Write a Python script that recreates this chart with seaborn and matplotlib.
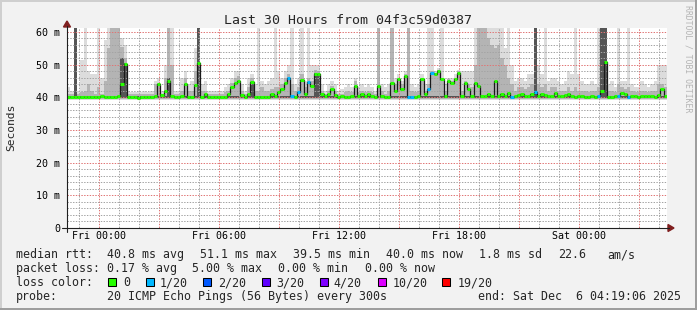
import numpy as np
import pandas as pd
import matplotlib
matplotlib.use("Agg")
import matplotlib.pyplot as plt
from matplotlib.patches import Rectangle, Polygon
from matplotlib.lines import Line2D
import seaborn as sns

# ---------------- data (10-minute samples, ms) ----------------
median_ms = [
    40.1, 40.0, 40.2, 40.0, 40.0, 40.1, 40.0, 40.0, 40.2, 40.0,
    40.3, 40.0, 40.1, 40.0, 40.2, 40.4, 44.0, 50.2, 40.0, 40.0,
    40.0, 39.9, 40.0, 40.0, 40.1, 40.0, 40.3, 44.0, 40.6, 42.0,
    45.0, 40.4, 40.0, 40.1, 40.5, 44.2, 40.2, 40.0, 43.8, 50.5,
    40.0, 41.0, 40.0, 40.0, 40.1, 40.0, 40.2, 40.0, 41.0, 43.2,
    44.5, 45.0, 40.6, 40.0, 41.0, 44.6, 40.2, 40.0, 40.0, 40.1,
    40.2, 41.0, 40.3, 41.5, 42.5, 44.5, 45.8, 40.5, 40.0, 41.5,
    45.3, 41.0, 44.6, 43.5, 47.2, 47.0, 41.0, 40.3, 41.0, 42.5,
    40.8, 40.2, 40.3, 40.0, 40.2, 40.5, 43.5, 40.5, 41.0, 40.3,
    41.0, 40.5, 40.2, 43.5, 40.3, 40.0, 40.2, 44.5, 42.0, 45.5,
    42.5, 46.5, 40.0, 40.0, 40.2, 40.5, 45.5, 41.0, 42.5, 47.5,
    47.0, 48.0, 45.5, 40.5, 45.0, 44.5, 45.5, 47.5, 40.5, 44.5,
    42.5, 40.5, 44.5, 43.5, 40.5, 40.5, 41.0, 40.3, 45.0, 40.5,
    41.0, 40.5, 41.2, 40.0, 40.3, 40.8, 41.0, 40.5, 40.3, 41.0,
    41.5, 40.5, 41.0, 40.8, 40.3, 40.5, 41.2, 40.5, 40.3, 40.6,
    41.0, 40.5, 40.0, 40.3, 40.5, 40.2, 40.0, 40.3, 40.0, 40.3,
    42.0, 50.8, 40.2, 40.0, 40.3, 40.5, 41.2, 41.0, 40.2, 40.5,
    40.3, 40.0, 40.5, 40.3, 40.5, 40.3, 40.2, 40.8, 42.5, 40.5,
]
smoke_max_ms = [
    43, 42, 62, 42, 51.5, 62, 48, 47, 47, 62,
    46, 57.5, 62, 62, 62, 62, 58, 56, 42, 41.5,
    41.5, 41.8, 41.5, 42, 41.5, 42, 45, 46, 42, 50,
    62, 62, 42, 42, 46, 48, 44, 45, 55, 62,
    44, 45, 42, 42, 42, 42, 42, 43, 44, 46,
    48, 48, 44, 42, 46, 47, 44, 62, 45, 44,
    45, 46, 62, 48, 46, 48, 50, 62, 44, 46,
    62, 45, 62, 50, 50, 49.5, 44, 42, 44, 45,
    44, 42, 42.5, 43, 44, 43, 46, 43, 44, 43,
    44, 43, 42, 62, 44, 43, 44, 62, 46, 47,
    45, 48, 62, 44, 43, 44, 47, 44, 62, 62,
    48, 49, 62, 44, 46, 46, 47, 48.5, 48, 48,
    48, 48, 62, 62, 62, 62, 62, 62, 62, 62,
    62, 55, 62, 50, 45, 46, 46, 45, 47, 47,
    62, 50, 47, 62, 45, 46, 46, 45, 44, 45,
    48, 47, 62, 47, 45, 44, 44, 45, 44, 62,
    62, 62, 44, 45, 43, 62, 45, 45, 62, 44,
    43, 43, 45, 44, 43, 44, 45, 50, 50, 50,
]
smoke_mid_ms = [
    41, 41, 62, 41, 41.5, 42, 44, 42, 41, 43,
    41, 45, 55, 62, 62, 62, 55.5, 52, 41, 41,
    41, 41, 41, 41, 41, 41, 44, 44.5, 41, 46,
    62, 50, 41, 41, 42, 46, 42, 42, 48, 62,
    42, 42, 41, 41, 41, 41, 41, 41.5, 42, 44.5,
    46, 46.5, 42, 41, 43, 46, 42, 42, 43, 42,
    42, 42.5, 43, 43, 44, 46, 47, 44, 42, 43,
    47, 43, 46, 45, 48.5, 48, 42, 41, 42, 43.5,
    42, 41, 41, 41.5, 42, 41.5, 45, 41.5, 42, 41.5,
    42, 41.5, 41, 62, 42, 41, 42, 62, 44, 46,
    44, 47, 62, 42, 41.5, 42, 46, 42, 44, 48,
    47.5, 48.5, 46, 42, 45.5, 45, 46, 48, 42, 45,
    44, 43, 50, 62, 62, 62, 58, 56, 55, 56,
    52, 50, 46, 44, 42, 43, 43, 42.5, 43, 44,
    62, 44, 43, 44, 42, 43, 43, 42, 42, 42,
    43, 42, 43, 42, 42, 42, 41.5, 42, 42, 43,
    62, 62, 42, 42, 41.5, 44, 43, 42.5, 43, 42,
    41.5, 41.5, 42, 42, 41.5, 42, 42, 44, 44, 43,
]
smoke_dark_ms = [
    40.5, 40.5, 62, 40.5, 40.5, 40.5, 40.5, 40.5, 40.5, 40.5,
    40.5, 40.5, 40.5, 40.5, 40.5, 40.5, 52, 50.5, 40.5, 40.5,
    40.5, 40.5, 40.5, 40.5, 40.5, 40.5, 40.5, 40.5, 40.5, 40.5,
    46, 40.5, 40.5, 40.5, 40.5, 40.5, 40.5, 40.5, 40.5, 62,
    40.5, 40.5, 40.5, 40.5, 40.5, 40.5, 40.5, 40.5, 40.5, 40.5,
    40.5, 40.5, 40.5, 40.5, 40.5, 44.8, 40.5, 40.5, 40.5, 40.5,
    40.5, 40.5, 40.5, 40.5, 40.5, 40.5, 40.5, 40.5, 40.5, 40.5,
    40.5, 40.5, 40.5, 40.5, 47.5, 47.2, 40.5, 40.5, 40.5, 40.5,
    40.5, 40.5, 40.5, 40.5, 40.5, 40.5, 40.5, 40.5, 40.5, 40.5,
    40.5, 40.5, 40.5, 40.5, 40.5, 40.5, 40.5, 40.5, 40.5, 40.5,
    40.5, 40.5, 40.5, 40.5, 40.5, 40.5, 40.5, 40.5, 40.5, 40.5,
    40.5, 40.5, 40.5, 40.5, 40.5, 40.5, 40.5, 40.5, 40.5, 40.5,
    40.5, 40.5, 40.5, 40.5, 40.5, 40.5, 40.5, 40.5, 40.5, 40.5,
    40.5, 40.5, 40.5, 40.5, 40.5, 40.5, 40.5, 40.5, 40.5, 40.5,
    62, 40.5, 40.5, 40.5, 40.5, 40.5, 40.5, 40.5, 40.5, 40.5,
    40.5, 40.5, 40.5, 40.5, 40.5, 40.5, 40.5, 40.5, 40.5, 40.5,
    62, 62, 40.5, 40.5, 40.5, 40.5, 40.5, 40.5, 40.5, 40.5,
    40.5, 40.5, 40.5, 40.5, 40.5, 40.5, 40.5, 40.5, 40.5, 40.5,
]
loss_1of20_idx = [66, 67, 69, 72, 102, 103, 108, 109, 133, 140, 159, 165, 168]

first_sample_h = -1.6          # hours relative to Fri 00:00
sample_step_h = 1 / 6

xtick_hours = [0, 6, 12, 18, 24]
xtick_labels = ["Fri 00:00", "Fri 06:00", "Fri 12:00", "Fri 18:00", "Sat 00:00"]
ytick_ms = [0, 10, 20, 30, 40, 50, 60]
ytick_labels = ["0", "10 m", "20 m", "30 m", "40 m", "50 m", "60 m"]

title = "Last 30 Hours from 04f3c59d0387"
y_label = "Seconds"
rtt_stats = ["40.8 ms avg", "51.1 ms max", "39.5 ms min", "40.0 ms now",
             "1.8 ms sd", "22.6", "am/s"]
loss_stats = ["0.17 % avg", "5.00 % max", "0.00 % min", "0.00 % now"]
loss_labels = ["0", "1/20", "2/20", "3/20", "4/20", "10/20", "19/20"]
loss_colors = ["#26ff00", "#00b8ff", "#0059ff", "#5e00ff", "#7e00ff", "#dd00ff", "#ff0000"]
probe_text = "20 ICMP Echo Pings (56 Bytes) every 300s"
end_text = "end: Sat Dec  6 04:19:06 2025"
credit = "RRDTOOL / TOBI OETIKER"

# ---------------- layout ----------------
W, H = 697, 310
sns.set_theme(style="white")
plt.rcParams["font.family"] = ["DejaVu Sans Mono", "DejaVu Sans"]
plt.rcParams["lines.scale_dashes"] = False


def P(x, y):
    return (x / W, 1 - y / H)


fig = plt.figure(figsize=(W / 100, H / 100), dpi=100)
fig.patch.set_facecolor("#f2f2f2")
ax = fig.add_axes([67 / W, 1 - 228 / H, 600 / W, 200 / H])
ax.set_facecolor("white")

n = len(median_ms)
t = first_sample_h + np.arange(n) * sample_step_h
edges = np.append(t, t[-1] + sample_step_h)


def ext(a):
    a = np.asarray(a, dtype=float)
    return np.append(a, a[-1])


# smoke
ax.fill_between(edges, 39.2, ext(smoke_max_ms), step="post", color="#dcdcdc", lw=0, zorder=1)
ax.fill_between(edges, 39.6, ext(smoke_mid_ms), step="post", color="#b4b4b4", lw=0, zorder=1.1)
ax.fill_between(edges, 39.8, ext(smoke_dark_ms), step="post", color="#555555", lw=0, zorder=1.2)

# grid (dotted); vertical lines nudged half a pixel onto pixel centres
grid_minor = "#a4a4a4"
grid_major = "#e07575"
dot = (0, (1.0, 1.0))
half_px_h = 0.5 / 20.0
for h in range(-1, 29):
    ax.axvline(h + half_px_h, color=grid_major if h % 3 == 0 else grid_minor, lw=0.72,
               linestyle=dot, zorder=2, snap=False)
for v in range(2, 61, 2):
    ax.axhline(v, color=grid_major if v % 10 == 0 else grid_minor, lw=0.72,
               linestyle=dot, zorder=2)

# median line
df = pd.DataFrame({"hours": edges, "median": ext(median_ms)})
sns.lineplot(data=df, x="hours", y="median", drawstyle="steps-post", color="#1a1a1a",
             lw=0.9, ax=ax, estimator=None, zorder=3)
loss = np.zeros(n, dtype=int)
loss[loss_1of20_idx] = 1
ax.hlines(median_ms, t, t + sample_step_h, colors=[loss_colors[k] for k in loss],
          lw=2.2, zorder=4)

ax.set_xlim(-1.6, 28.4)
ax.set_ylim(0, 61.2)
ax.set_xticks(xtick_hours, xtick_labels)
ax.set_yticks(ytick_ms, ytick_labels)
ax.tick_params(axis="both", length=0, labelsize=7.2, colors="black")
ax.tick_params(axis="x", pad=2.5)
ax.tick_params(axis="y", pad=5)
ax.set_xlabel("")
ax.set_ylabel("")
for s in ax.spines.values():
    s.set_visible(False)

# axes lines and arrows
axis_col = "#1f1f1f"
arrow_col = (0.5, 0.12, 0.12)
fig.add_artist(Line2D(*zip(P(67, 232), P(67, 26)), color=axis_col, lw=0.8, transform=fig.transFigure))
fig.add_artist(Line2D(*zip(P(62, 228), P(669, 228)), color=axis_col, lw=0.8, transform=fig.transFigure))
fig.add_artist(Polygon([P(67, 21), P(63.5, 27), P(70.5, 27)], closed=True, color=arrow_col,
                       transform=fig.transFigure))
fig.add_artist(Polygon([P(674, 228), P(668, 224.5), P(668, 231.5)], closed=True, color=arrow_col,
                       transform=fig.transFigure))

# frame shading
for (x0, y0, w, h, c) in [(0, 0, 697, 1.5, "#cfcfcf"), (0, 0, 1.5, 310, "#cfcfcf"),
                          (694.5, 0, 2.5, 310, "#9e9e9e"), (0, 308, 697, 2, "#9e9e9e")]:
    fig.add_artist(Rectangle(P(x0, y0 + h), w / W, h / H, transform=fig.transFigure,
                             facecolor=c, edgecolor="none"))

# texts
fs = 8.37
fig.text(*P(347.5, 24), title, ha="center", va="baseline", size=9.55)
fig.text(*P(11, 127), y_label, ha="center", va="center", rotation=90, size=8.1)
fig.text(*P(688, 5), credit, ha="center", va="top", rotation=270, size=5.9, color="#b4b4b4")

rtt_x = [107, 200, 293, 386, 479, 558, 607]
fig.text(*P(16, 258.3), "median rtt:", ha="left", va="baseline", size=fs)
for x, s in zip(rtt_x, rtt_stats):
    fig.text(*P(x, 258.3), s, ha="left", va="baseline", size=fs)

loss_x = [107, 192.5, 278.5, 365]
fig.text(*P(16, 272.3), "packet loss:", ha="left", va="baseline", size=fs)
for x, s in zip(loss_x, loss_stats):
    fig.text(*P(x, 272.3), s, ha="left", va="baseline", size=fs)

box_x = [108.3, 145.7, 203.3, 261.7, 320, 377.7, 442.3]
lab_x = [123.3, 160, 218.3, 276, 333.3, 392.7, 457.3]
fig.text(*P(16, 286), "loss color:", ha="left", va="baseline", size=fs)
for bx, lx, c, s in zip(box_x, lab_x, loss_colors, loss_labels):
    fig.add_artist(Rectangle(P(bx, 285.5), 8 / W, 8 / H, transform=fig.transFigure,
                             facecolor=c, edgecolor="black", lw=0.75))
    fig.text(*P(lx, 286), s, ha="left", va="baseline", size=fs)

fig.text(*P(16, 300), "probe:", ha="left", va="baseline", size=fs)
fig.text(*P(107, 300), probe_text, ha="left", va="baseline", size=fs)
fig.text(*P(478.3, 300), end_text, ha="left", va="baseline", size=fs)

fig.savefig("out.png", dpi=100, facecolor=fig.get_facecolor())
